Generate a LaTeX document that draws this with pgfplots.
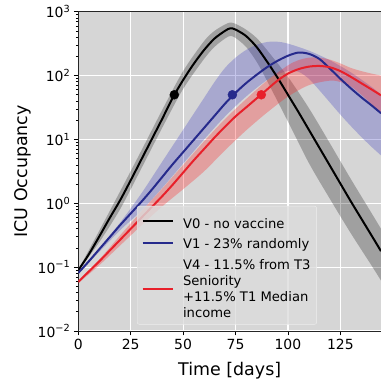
\documentclass[border=0pt]{standalone}
\usepackage{pgfplots}
\pgfplotsset{compat=1.18}
\usepgfplotslibrary{fillbetween}
\usepackage{fontspec}
\setmainfont{DejaVu Sans}
\definecolor{bg}{HTML}{D6D6D6}
\definecolor{legbg}{HTML}{DCDCDC}
\definecolor{vblue}{HTML}{262A8C}
\definecolor{vbluef}{HTML}{4040C0}
\definecolor{vred}{HTML}{E8202A}
\definecolor{vredf}{HTML}{FF2020}
\begin{document}
\begin{tikzpicture}
\begin{axis}[
  at={(0,0)}, anchor=south west,
  scale only axis,
  width=302.7bp, height=319.3bp,
  xmin=0, xmax=144.4,
  ymode=log, ymin=0.01, ymax=1000,
  axis y line*=left,
  axis background/.style={fill=bg},
  xtick={0,25,50,75,100,125},
  xticklabels={0,25,50,75,100,125},
  ytick={0.01,0.1,1,10,100,1000},
  yticklabels={10\textsuperscript{−2},10\textsuperscript{−1},10\textsuperscript{0},10\textsuperscript{1},10\textsuperscript{2},10\textsuperscript{3}},
  minor ytick={0.02,0.03,0.04,0.05,0.06,0.07,0.08,0.09,0.2,0.3,0.4,0.5,0.6,0.7,0.8,0.9,2,3,4,5,6,7,8,9,20,30,40,50,60,70,80,90,200,300,400,500,600,700,800,900},
  grid=major,
  major grid style={white, line width=1.2bp},
  tick align=outside,
  xtick pos=left, ytick pos=left,
  major tick length=4.5bp, minor tick length=2.5bp,
  tick style={black, line width=0.8bp},
  minor tick style={black, line width=0.6bp},
  axis line style={black!85, line width=0.8bp},
  tick label style={font=\fontsize{14}{16}\selectfont},
  label style={font=\fontsize{17.5}{20}\selectfont},
  xlabel={Time [days]},
  ylabel={ICU Occupancy},
  xlabel style={at={(axis description cs:0.5,-0.124)}, anchor=center},
  ylabel style={at={(axis description cs:-0.184,0.5)}, anchor=center},
  legend style={at={(axis description cs:0.194,0.3915)}, anchor=north west,
    fill=legbg, fill opacity=0.8, text opacity=1, draw=white!55!bg,
    rounded corners=2bp, font=\fontsize{13.2}{16}\selectfont,
    inner xsep=4.5bp, inner ysep=5.7bp, row sep=6.3bp, column sep=7.8bp,
    nodes={inner xsep=1.5bp, inner ysep=1.5bp, text depth=0pt}},
  legend cell align=left,
  legend image code/.code={\draw[#1] (0bp,0bp) -- (30bp,0bp);},
]
% ---- V0 band ----
\addplot[draw=none, smooth, name path=bu0, forget plot] coordinates {(0,0.0912)(10,0.372)(20,1.549)(30,6.607)(40,28.84)(50,117.5)(60,346.7)(65,501.2)(70,631.0)(72.5,676.1)(75,645.7)(80,524.8)(85,389.0)(90,251.2)(100,95.5)(110,30.9)(120,8.71)(130,2.399)(140,0.692)(144.4,0.398)};
\addplot[draw=none, smooth, name path=bl0, forget plot] coordinates {(0,0.0871)(10,0.2455)(20,0.813)(30,3.467)(40,15.14)(50,61.7)(60,182.0)(65,281.8)(70,380.2)(72.5,416.9)(75,389.0)(80,281.8)(85,166.0)(90,83.2)(100,19.05)(110,4.266)(120,1.175)(130,0.339)(140,0.1047)(144.4,0.0617)};
\addplot[black, fill opacity=0.25, draw=none, forget plot] fill between[of=bu0 and bl0];
\addplot[black, line width=2bp, smooth] coordinates {(0,0.0891)(5,0.1585)(10,0.302)(15,0.589)(20,1.122)(25,2.291)(30,4.786)(35,10)(40,20.89)(45,44.67)(50,85.1)(55,151.4)(60,251.2)(65,380.2)(70,501.2)(72.5,549.5)(75,524.8)(80,416.9)(85,281.8)(90,166.0)(95,93.3)(100,50.1)(105,26.9)(110,14.13)(115,7.41)(120,3.89)(125,2.04)(130,1.072)(135,0.575)(140,0.309)(144.4,0.178)};
\addlegendentry{\rule{0pt}{15bp}V0 - no vaccine}
% ---- V1 band ----
\addplot[draw=none, smooth, name path=bu1, forget plot] coordinates {(0,0.0832)(10,0.1995)(20,0.501)(30,1.413)(40,4.467)(50,14.13)(60,44.67)(65,79.4)(70,131.8)(75,190.5)(80,251.2)(85,302.0)(90,335.0)(95,338.8)(100,316.2)(110,245.5)(120,173.8)(130,112.2)(140,66.1)(144.4,50.1)};
\addplot[draw=none, smooth, name path=bl1, forget plot] coordinates {(0,0.0794)(10,0.1738)(20,0.380)(30,0.759)(40,1.738)(50,4.169)(60,10)(70,22.9)(80,46.8)(90,85.1)(95,104.7)(100,117.5)(105,114.8)(110,89.1)(115,58.9)(120,38.0)(125,24.5)(130,16.2)(135,10.96)(140,7.59)(144.4,5.62)};
\addplot[vbluef, fill opacity=0.3, draw=none, forget plot] fill between[of=bu1 and bl1];
\addplot[vblue, line width=2bp, smooth] coordinates {(0,0.0813)(5,0.123)(10,0.1905)(15,0.295)(20,0.457)(25,0.692)(30,1.047)(35,1.622)(40,2.570)(45,4.074)(50,6.310)(55,9.772)(60,15.14)(65,23.44)(70,36.31)(75,53.7)(80,75.9)(85,102.3)(90,134.9)(95,169.8)(100,204.2)(105,229.1)(110,218.8)(115,182.0)(120,128.8)(125,89.1)(130,63.1)(135,45.7)(140,33.9)(144.4,25.7)};
\addlegendentry{\strut V1 - 23\% randomly}
% ---- V4 band ----
\addplot[draw=none, smooth, name path=bu4, forget plot] coordinates {(0,0.0617)(10,0.1318)(20,0.316)(30,0.741)(40,1.698)(50,3.981)(60,9.333)(70,20.89)(80,42.66)(90,83.2)(100,144.5)(105,173.8)(110,190.5)(115,190.5)(120,177.8)(125,154.9)(130,131.8)(135,117.5)(140,107.2)(144.4,100)};
\addplot[draw=none, smooth, name path=bl4, forget plot] coordinates {(0,0.0562)(10,0.1072)(20,0.219)(30,0.447)(40,0.891)(50,1.660)(60,3.162)(70,6.761)(80,13.8)(90,26.3)(100,46.8)(110,70.8)(120,83.2)(125,79.4)(130,67.6)(135,50.1)(140,35.5)(144.4,25.1)};
\addplot[vredf, fill opacity=0.3, draw=none, forget plot] fill between[of=bu4 and bl4];
\addplot[vred, line width=2bp, smooth, legend image code/.code={\draw[vred, line width=2bp] (0bp,-1bp) -- (30bp,-1bp);}] coordinates {(0,0.0589)(5,0.0851)(10,0.123)(15,0.182)(20,0.269)(25,0.398)(30,0.589)(35,0.871)(40,1.288)(45,1.950)(50,3.020)(55,4.677)(60,7.079)(65,10.72)(70,15.85)(75,22.91)(80,31.6)(85,43.65)(90,60.3)(95,83.2)(100,107.2)(105,125.9)(110,138.0)(115,141.3)(120,134.9)(125,117.5)(130,95.5)(135,75.9)(140,60.3)(144.4,49.0)};
\addlegendentry{\begin{tabular}[b]{@{}l@{}}V4 - 11.5\% from T3\\Seniority\\+11.5\% T1 Median\\income\end{tabular}}
% ---- threshold dots ----
\addplot[only marks, mark=*, mark size=4.5bp, black, forget plot] coordinates {(45.8,50)};
\addplot[only marks, mark=*, mark size=4.5bp, vblue, forget plot] coordinates {(73.5,50)};
\addplot[only marks, mark=*, mark size=4.5bp, vred, forget plot] coordinates {(87.3,50)};
\end{axis}
\pgfresetboundingbox
\path (-78.3bp,-48bp) rectangle (302.7bp,331bp);
\end{tikzpicture}
\end{document}
